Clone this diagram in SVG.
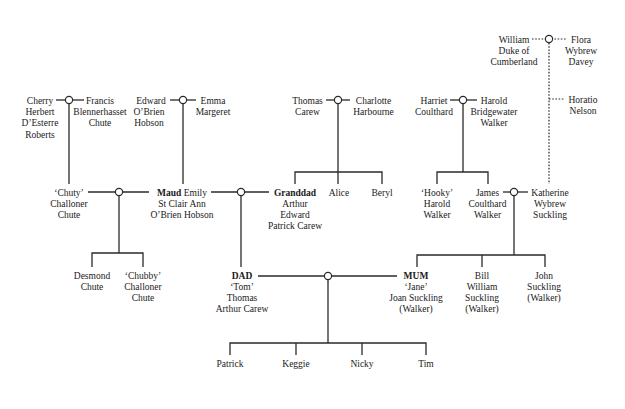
<svg xmlns="http://www.w3.org/2000/svg" width="625" height="409" viewBox="0 0 625 409">
<style>
text{font-family:"Liberation Serif","DejaVu Serif",serif;font-size:9.5px;fill:#1a1a1a;text-anchor:middle}
.b{font-weight:bold}
.c line,.c path{stroke:#2a2a2a;stroke-width:1.3;fill:none}
.c .d{stroke-dasharray:1.6 1.6;stroke-width:1.2}
.c circle{fill:#fff;stroke:#2a2a2a;stroke-width:1.2}
</style>
<rect width="625" height="409" fill="#fff"/>
<g class="c" id="connectors">
<line x1="56" y1="100" x2="84" y2="100"/><circle cx="69" cy="100" r="3.6"/>
<line x1="69" y1="104" x2="69" y2="184"/>
<line x1="170" y1="100" x2="196" y2="100"/><circle cx="183" cy="100" r="3.6"/>
<line x1="183" y1="104" x2="183" y2="184"/>
<line x1="326" y1="100" x2="350" y2="100"/><circle cx="338" cy="100" r="3.6"/>
<line x1="338" y1="104" x2="338" y2="184"/>
<path d="M295 184V172H382V184"/>
<line x1="450" y1="100" x2="477" y2="100"/><circle cx="463" cy="100" r="3.6"/>
<line x1="463" y1="104" x2="463" y2="172"/>
<path d="M437 184V172H488V184"/>
<line class="d" x1="532" y1="39" x2="567" y2="39"/><circle cx="549" cy="39" r="3.6"/>
<line class="d" x1="549" y1="43" x2="549" y2="184"/>
<line class="d" x1="549" y1="99" x2="565" y2="99"/>
<line x1="88" y1="192" x2="149" y2="192"/><circle cx="119" cy="192" r="3.6"/>
<line x1="119" y1="196" x2="119" y2="253"/>
<path d="M92 267V253H143V267"/>
<line x1="211" y1="192" x2="269" y2="192"/><circle cx="241" cy="192" r="3.6"/>
<line x1="241" y1="196" x2="241" y2="267"/>
<line x1="503" y1="192" x2="528" y2="192"/><circle cx="514" cy="192" r="3.6"/>
<line x1="514" y1="196" x2="514" y2="255"/>
<path d="M417 267V255H545V267"/>
<line x1="482" y1="255" x2="482" y2="267"/>
<line x1="258" y1="276" x2="397" y2="276"/><circle cx="328" cy="276" r="3.6"/>
<line x1="328" y1="280" x2="328" y2="343"/>
<path d="M230 355V343H426V355"/>
<line x1="296" y1="343" x2="296" y2="355"/>
<line x1="362" y1="343" x2="362" y2="355"/>
</g>
<g id="cherry"><text x="40" y="104">Cherry<tspan x="40" dy="11.2">Herbert</tspan><tspan x="40" dy="11.2">D’Esterre</tspan><tspan x="40" dy="11.2">Roberts</tspan></text></g>
<g id="francis"><text x="100" y="104">Francis<tspan x="100" dy="11.2">Blennerhasset</tspan><tspan x="100" dy="11.2">Chute</tspan></text></g>
<g id="edward"><text x="151" y="104">Edward<tspan x="149" dy="11.2">O’Brien</tspan><tspan x="149" dy="11.2">Hobson</tspan></text></g>
<g id="emma"><text x="213" y="104">Emma<tspan x="213" dy="11.2">Margeret</tspan></text></g>
<g id="thomas"><text x="307.5" y="104">Thomas<tspan x="307.5" dy="11.2">Carew</tspan></text></g>
<g id="charlotte"><text x="373.5" y="104">Charlotte<tspan x="373.5" dy="11.2">Harbourne</tspan></text></g>
<g id="harriet"><text x="434" y="104">Harriet<tspan x="434" dy="11.2">Coulthard</tspan></text></g>
<g id="harold"><text x="494" y="104">Harold<tspan x="494" dy="11.2">Bridgewater</tspan><tspan x="494" dy="11.2">Walker</tspan></text></g>
<g id="william"><text x="514" y="42.5">William<tspan x="514" dy="11.2">Duke of</tspan><tspan x="514" dy="11.2">Cumberland</tspan></text></g>
<g id="flora"><text x="581" y="42.5">Flora<tspan x="581" dy="11.2">Wybrew</tspan><tspan x="581" dy="11.2">Davey</tspan></text></g>
<g id="horatio"><text x="583" y="102.5">Horatio<tspan x="583" dy="11.2">Nelson</tspan></text></g>
<g id="chuty"><text x="69" y="196">‘Chuty’<tspan x="69" dy="11">Challoner</tspan><tspan x="69" dy="11">Chute</tspan></text></g>
<g id="maud"><text x="182" y="196"><tspan class="b">Maud</tspan> Emily<tspan x="182" dy="11">St Clair Ann</tspan><tspan x="182" dy="11">O’Brien Hobson</tspan></text></g>
<g id="granddad"><text x="295" y="196"><tspan class="b">Granddad</tspan><tspan x="295" dy="11">Arthur</tspan><tspan x="295" dy="11">Edward</tspan><tspan x="295" dy="11">Patrick Carew</tspan></text></g>
<g id="alice"><text x="339" y="196">Alice</text></g>
<g id="beryl"><text x="382" y="196">Beryl</text></g>
<g id="hooky"><text x="437" y="196">‘Hooky’<tspan x="437" dy="11">Harold</tspan><tspan x="437" dy="11">Walker</tspan></text></g>
<g id="james"><text x="487.5" y="196">James<tspan x="487.5" dy="11">Coulthard</tspan><tspan x="487.5" dy="11">Walker</tspan></text></g>
<g id="katherine"><text x="550" y="196">Katherine<tspan x="550" dy="11">Wybrew</tspan><tspan x="550" dy="11">Suckling</tspan></text></g>
<g id="desmond"><text x="92" y="279">Desmond<tspan x="92" dy="11">Chute</tspan></text></g>
<g id="chubby"><text x="143" y="279">‘Chubby’<tspan x="143" dy="11">Challoner</tspan><tspan x="143" dy="11">Chute</tspan></text></g>
<g id="dad"><text x="242" y="279"><tspan class="b">DAD</tspan><tspan x="242" dy="11">‘Tom’</tspan><tspan x="242" dy="11">Thomas</tspan><tspan x="242" dy="11">Arthur Carew</tspan></text></g>
<g id="mum"><text x="416" y="279"><tspan class="b">MUM</tspan><tspan x="416" dy="11">‘Jane’</tspan><tspan x="416" dy="11">Joan Suckling</tspan><tspan x="416" dy="11">(Walker)</tspan></text></g>
<g id="bill"><text x="482" y="279">Bill<tspan x="482" dy="11">William</tspan><tspan x="482" dy="11">Suckling</tspan><tspan x="482" dy="11">(Walker)</tspan></text></g>
<g id="john"><text x="544" y="279">John<tspan x="544" dy="11">Suckling</tspan><tspan x="544" dy="11">(Walker)</tspan></text></g>
<g id="patrick"><text x="230" y="367">Patrick</text></g>
<g id="keggie"><text x="296" y="367">Keggie</text></g>
<g id="nicky"><text x="362" y="367">Nicky</text></g>
<g id="tim"><text x="426" y="367">Tim</text></g>
</svg>
